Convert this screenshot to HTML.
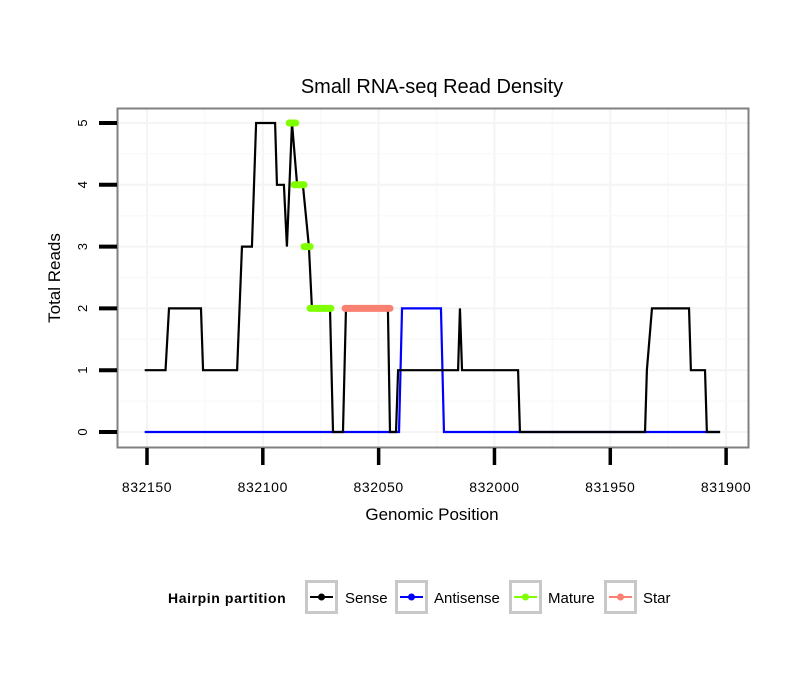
<!DOCTYPE html>
<html><head><meta charset="utf-8"><style>
body{margin:0;background:#fff;}
svg text{font-family:"Liberation Sans",Arial,sans-serif;}
</style></head><body>
<svg id="chart" width="810" height="690" xmlns="http://www.w3.org/2000/svg">
<rect width="810" height="690" fill="#fff"/>
<text x="432" y="93" text-anchor="middle" font-size="20">Small RNA-seq Read Density</text>
<g id="grid"></g>
<g id="marks"></g>
<rect x="117.5" y="108.5" width="631" height="339" fill="none" stroke="#808080" stroke-width="2"/>
<g id="axes"></g>
<text x="432" y="520" text-anchor="middle" font-size="17">Genomic Position</text>
<text transform="translate(60,278) rotate(-90)" text-anchor="middle" font-size="17">Total Reads</text>
<g>
<text x="168" y="603" font-size="14" font-weight="bold" letter-spacing="0.6">Hairpin partition</text>
<g><rect x="306.5" y="581.5" width="30" height="31" fill="#fff" stroke="#c8c8c8" stroke-width="3"/><line x1="310" y1="597" x2="333" y2="597" stroke="#000" stroke-width="2"/><circle cx="321.5" cy="597" r="3.5" fill="#000"/><text x="345" y="603" font-size="15">Sense</text></g>
<g><rect x="396.5" y="581.5" width="30" height="31" fill="#fff" stroke="#c8c8c8" stroke-width="3"/><line x1="400" y1="597" x2="423" y2="597" stroke="#0000ff" stroke-width="2"/><circle cx="411.5" cy="597" r="3.5" fill="#0000ff"/><text x="434" y="603" font-size="15">Antisense</text></g>
<g><rect x="510.5" y="581.5" width="30" height="31" fill="#fff" stroke="#c8c8c8" stroke-width="3"/><line x1="514" y1="597" x2="537" y2="597" stroke="#7fff00" stroke-width="2"/><circle cx="525.5" cy="597" r="3.5" fill="#7fff00"/><text x="548" y="603" font-size="15">Mature</text></g>
<g><rect x="605.5" y="581.5" width="30" height="31" fill="#fff" stroke="#c8c8c8" stroke-width="3"/><line x1="609" y1="597" x2="632" y2="597" stroke="#fa8072" stroke-width="2"/><circle cx="620.5" cy="597" r="3.5" fill="#fa8072"/><text x="643" y="603" font-size="15">Star</text></g>
</g>
</svg>
<script>
const xTicks=[832150,832100,832050,832000,831950,831900];
const yTicks=[0,1,2,3,4,5];
const senseX=[832151,832142,832140.5,832126.7,832125.8,832111.1,832109,832104.7,832102.9,832094.7,832093.9,832090.9,832089.6,832087.4,832085.2,832082.7,832080.1,832078.8,832071,832069.7,832065.4,832064.1,832046,832045.1,832042.5,832041.6,832015.7,832014.9,832014,831989.8,831989,831935,831934.2,831932,831916,831915.2,831909.1,831908.3,831902.6];
const senseY=[1,1,2,2,1,1,3,3,5,5,4,4,3,5,4,4,3,2,2,0,0,2,2,0,0,1,1,2,1,1,0,0,1,2,2,1,1,0,0];
const antiX=[832151,832041.2,832039.9,832023.1,832021.8,831902.6];
const antiY=[0,0,2,2,0,0];
const matureStart=[832088.6,832086.5,832082.2,832079.6];
const matureEnd=[832085.8,832082.2,832079.6,832070.6];
const matureY=[5,4,3,2];
const starStart=[832064.5];
const starEnd=[832045.1];
const starY=[2];

const X=v=>147+(832150-v)*2.3164;
const Y=v=>432-v*61.8;
const NS='http://www.w3.org/2000/svg';
function mk(tag,attrs,parent){const e=document.createElementNS(NS,tag);for(const k in attrs)e.setAttribute(k,attrs[k]);parent.appendChild(e);return e;}
const grid=document.getElementById('grid'),marks=document.getElementById('marks'),axes=document.getElementById('axes');
for(let i=0;i<xTicks.length;i++){
  const x=X(xTicks[i]);
  const g=mk('line',{x1:x,x2:x,y1:109,y2:447,stroke:'#f4f4f4','stroke-width':2},grid);
  
  
  if(i<xTicks.length-1){const xm=X((xTicks[i]+xTicks[i+1])/2);
    const m=mk('line',{x1:xm,x2:xm,y1:109,y2:447,stroke:'#f9f9f9','stroke-width':1.5},grid);
    
    }
  const t=mk('line',{x1:x,x2:x,y1:448,y2:465,stroke:'#000','stroke-width':3.5},axes);
  
  
  const l=mk('text',{x:x,y:492,'text-anchor':'middle','font-size':14,'letter-spacing':'0.6'},axes);
  l.textContent=xTicks[i];
  
  
}
for(let i=0;i<yTicks.length;i++){
  const y=Y(yTicks[i]);
  const g=mk('line',{x1:118,x2:748,y1:y,y2:y,stroke:'#f4f4f4','stroke-width':2},grid);
  
  
  if(i<yTicks.length-1){const ym=Y((yTicks[i]+yTicks[i+1])/2);
    const m=mk('line',{x1:118,x2:748,y1:ym,y2:ym,stroke:'#f9f9f9','stroke-width':1.5},grid);
    
    }
  const t=mk('line',{x1:99,x2:117,y1:y,y2:y,stroke:'#000','stroke-width':4},axes);
  
  
  const l=mk('text',{transform:`translate(87,${y}) rotate(-90)`,'text-anchor':'middle','font-size':13},axes);
  l.textContent=yTicks[i];
  
  
}
function line(xs,ys,color,name){
  const p=mk('polyline',{points:xs.map((v,i)=>X(v)+','+Y(ys[i])).join(' '),fill:'none',stroke:color,'stroke-width':2.2,'stroke-linejoin':'miter'},marks);
  
  
}
line(antiX,antiY,'#0000ff','antisense-line');
line(senseX,senseY,'#000000','sense-line');
function segs(s,e,ys,color,name){
  for(let i=0;i<s.length;i++){
    const l=mk('line',{x1:X(s[i]),x2:X(e[i]),y1:Y(ys[i]),y2:Y(ys[i]),stroke:color,'stroke-width':7,'stroke-linecap':'round'},marks);
    
    
  }
}
segs(matureStart,matureEnd,matureY,'#7fff00','mature-segment');
segs(starStart,starEnd,starY,'#fa8072','star-segment');
</script>
</body></html>
